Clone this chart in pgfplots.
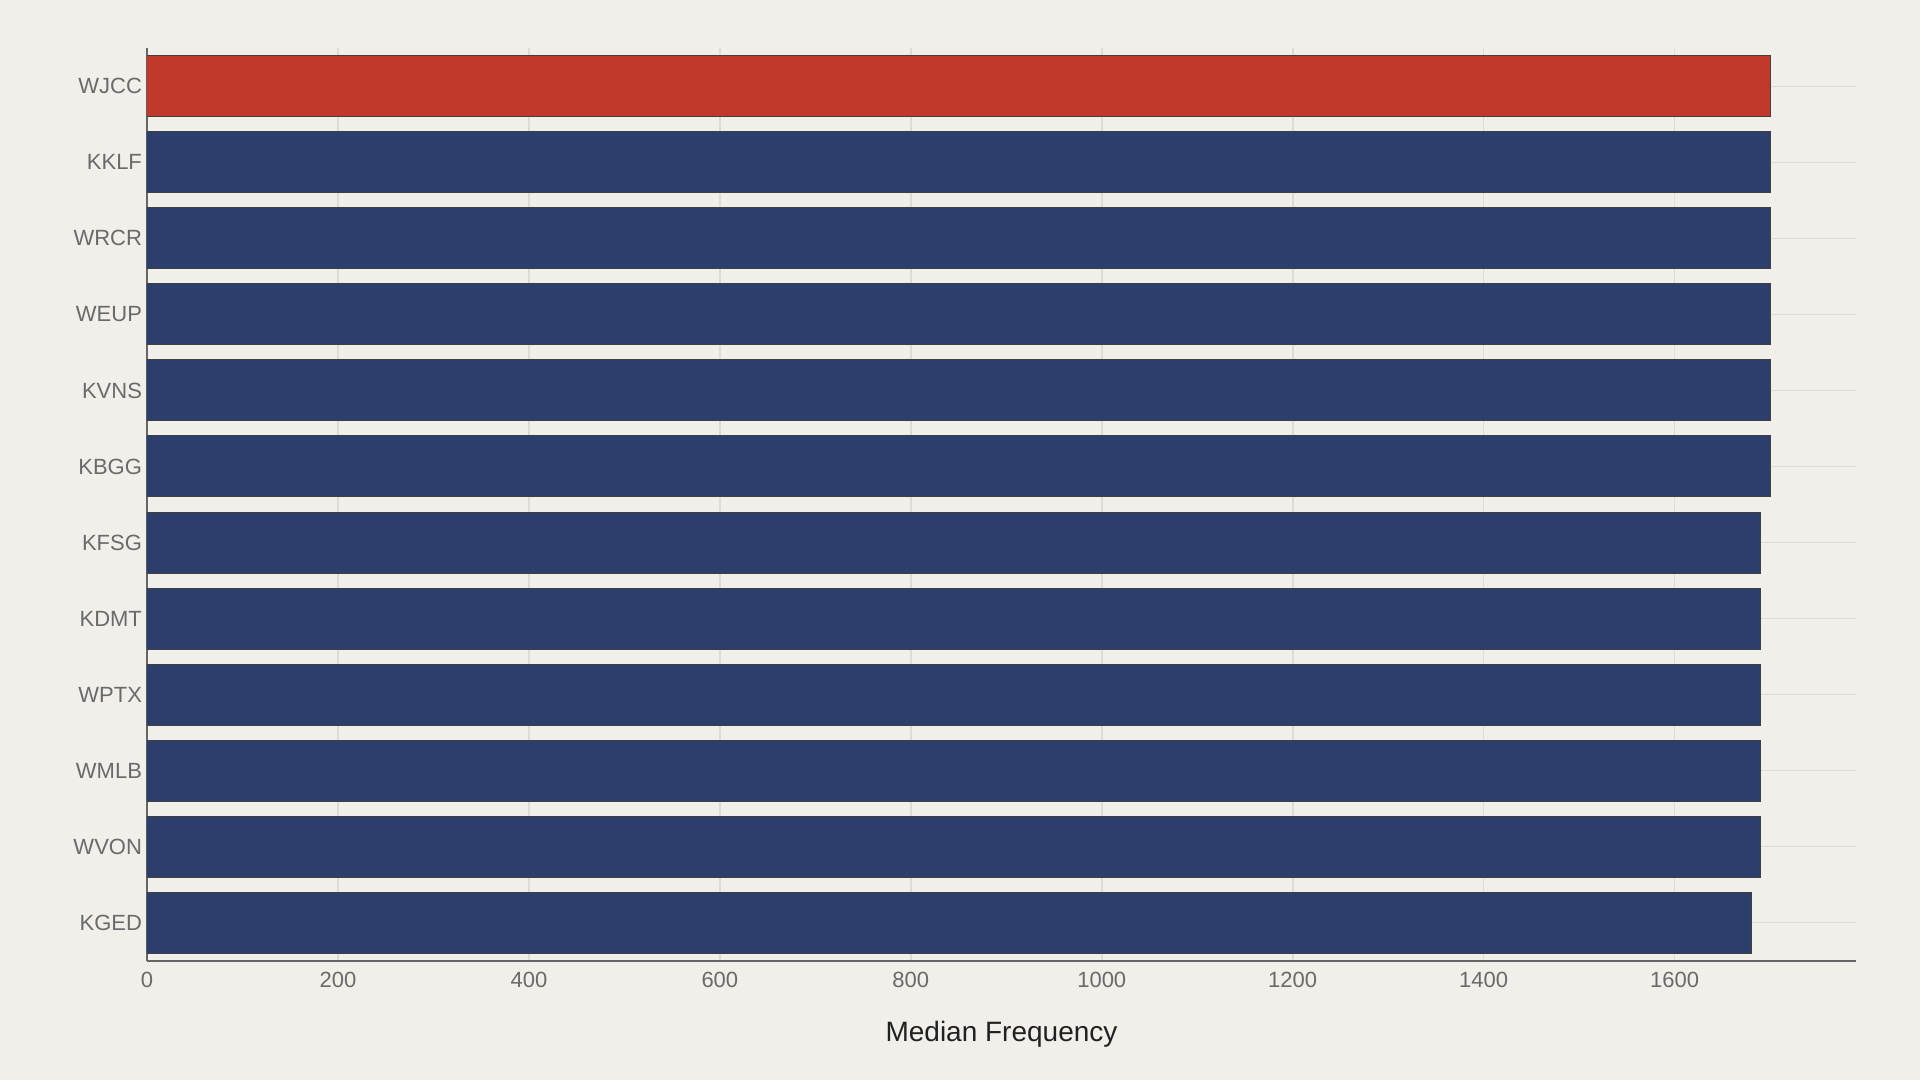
\documentclass[border=0pt]{standalone}
\usepackage{pgfplots}
\pgfplotsset{compat=1.18}
\usepackage{fontspec}
\setmainfont{Liberation Sans}
\definecolor{bg}{HTML}{F0EFEA}
\definecolor{redbar}{HTML}{C0392B}
\definecolor{navybar}{HTML}{2C3E6B}
\definecolor{gridc}{HTML}{DCDBD6}
\definecolor{axc}{HTML}{666666}
\definecolor{tickc}{HTML}{6A6A6A}
\begin{document}
\begin{tikzpicture}
\fill[bg] (-73.5pt,-59.65pt) rectangle (886.5pt,480.35pt);
\begin{axis}[
  at={(0,0)}, anchor=south west,
  scale only axis,
  width=854.5pt, height=456.2pt,
  xmin=0, xmax=1790,
  ymin=-0.5, ymax=11.5,
  y dir=reverse,
  xbar, bar width=30.5pt,
  axis x line=bottom, axis y line=left,
  axis line style={-, draw=axc, line width=1pt},
  xtick={0,200,...,1600},
  ytick={0,...,11},
  yticklabels={WJCC,KKLF,WRCR,WEUP,KVNS,KBGG,KFSG,KDMT,WPTX,WMLB,WVON,KGED},
  major tick length=0pt,
  xmajorgrids, ymajorgrids,
  grid style={draw=gridc, line width=0.8pt},
  /pgf/number format/assume math mode=true,
  /pgf/number format/1000 sep={},
  tick label style={font=\fontsize{11}{13}\selectfont, text=tickc},
  xticklabel style={yshift=-2pt},
  yticklabel style={xshift=1pt},
  xlabel={Median Frequency},
  xlabel style={font=\fontsize{14}{16}\selectfont, text=black!87, yshift=-10pt},
]
\addplot[fill=redbar, draw=black!75, line width=0.5pt, bar shift=0pt] coordinates {(1700,0)};
\addplot[fill=navybar, draw=black!75, line width=0.5pt, bar shift=0pt] coordinates {
(1700,1) (1700,2) (1700,3) (1700,4) (1700,5)
(1690,6) (1690,7) (1690,8) (1690,9) (1690,10) (1680,11)};
\end{axis}
\end{tikzpicture}
\end{document}
